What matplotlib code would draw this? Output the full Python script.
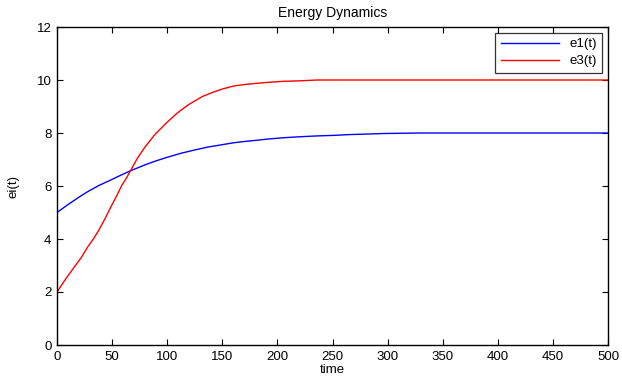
import matplotlib
matplotlib.use("Agg")
import matplotlib.pyplot as plt

plt.rcParams['font.family'] = ['Liberation Sans', 'DejaVu Sans']

# values
t_e1 = [0, 10, 20, 28, 38, 49, 58, 67, 80, 90, 99, 112, 125, 137, 150, 160, 170, 180,
        191, 205, 221, 236, 251, 265, 281, 296, 312, 330, 400, 500]
e1 = [5.0, 5.3, 5.58, 5.79, 6.02, 6.23, 6.41, 6.58, 6.8, 6.95, 7.07, 7.23, 7.36, 7.47,
      7.56, 7.63, 7.68, 7.72, 7.77, 7.82, 7.86, 7.89, 7.91, 7.94, 7.96, 7.98, 7.99, 8.0,
      8.0, 8.0]

t_e3 = [0, 8, 16, 22, 28, 33, 38, 44, 49, 54, 59, 63, 67, 73, 80, 89, 99, 109, 119, 132,
        141, 150, 160, 170, 180, 191, 205, 221, 236, 300, 400, 500]
e3 = [2.0, 2.5, 2.96, 3.3, 3.71, 4.0, 4.34, 4.8, 5.22, 5.62, 6.04, 6.3, 6.6, 7.05, 7.48,
      7.95, 8.37, 8.75, 9.06, 9.38, 9.53, 9.66, 9.77, 9.83, 9.87, 9.91, 9.95, 9.97, 10.0,
      10.0, 10.0, 10.0]

xticks = [0, 50, 100, 150, 200, 250, 300, 350, 400, 450, 500]
yticks = [0, 2, 4, 6, 8, 10, 12]

fig = plt.figure(figsize=(6.22, 3.81), dpi=100)
ax = fig.add_axes([57 / 622, 36 / 381, 551 / 622, 318 / 381])

ax.plot(t_e1, e1, color='#0000ff', lw=1.0, label='e1(t)')
ax.plot(t_e3, e3, color='#ff0000', lw=1.0, label='e3(t)')

ax.set_xlim(0, 500)
ax.set_ylim(0, 12)
ax.set_xticks(xticks)
ax.set_yticks(yticks)
ax.tick_params(direction='in', top=True, right=True, length=4, width=0.8,
               labelsize=9.5, pad=4)
for s in ax.spines.values():
    s.set_linewidth(1.0)

ax.set_title('Energy Dynamics', fontsize=10, pad=7)
ax.set_xlabel('time', fontsize=9.5, labelpad=1)
ax.set_ylabel('ei(t)', fontsize=9.5, labelpad=12)

leg = ax.legend(loc='upper right', fontsize=9.5, frameon=True, fancybox=False,
                edgecolor='black', handlelength=4.4, borderaxespad=0.45,
                labelspacing=0.35, handletextpad=0.8, borderpad=0.4)
leg.get_frame().set_linewidth(0.9)

fig.savefig('out.png', dpi=100)
